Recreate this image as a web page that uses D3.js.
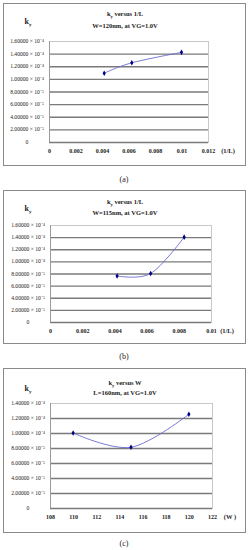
<!DOCTYPE html>
<html><head><meta charset="utf-8">
<script src="https://cdnjs.cloudflare.com/ajax/libs/d3/7.8.5/d3.min.js"></script>
<style>body{margin:0;background:#fff}svg{display:block}</style>
</head><body>
<script>
// ---- data ----
const xA = [1/240, 1/160, 1/100];
const yA = [1.09e-4, 1.255e-4, 1.42e-4];
const xB = [1/240, 1/160, 1/120];
const yB = [0.76e-4, 0.80e-4, 1.40e-4];
const xC = [110, 115, 120];
const yC = [1.00e-4, 0.81e-4, 1.25e-4];
const xTicksA = [0, 0.002, 0.004, 0.006, 0.008, 0.01, 0.012];
const xTicksB = [0, 0.002, 0.004, 0.006, 0.008, 0.01];
const xTicksC = [108, 110, 112, 114, 116, 118, 120, 122];
const yTicks16 = [0, 2e-5, 4e-5, 6e-5, 8e-5, 1e-4, 1.2e-4, 1.4e-4, 1.6e-4];
const yTicks14 = [0, 2e-5, 4e-5, 6e-5, 8e-5, 1e-4, 1.2e-4, 1.4e-4];
const titlesA = ["versus 1/L", "W=120nm, at VG=1.0V"];
const titlesB = ["versus 1/L", "W=115nm, at VG=1.0V"];
const titlesC = ["versus W", "L=160nm, at VG=1.0V"];
const xUnits = ["(1/L)", "(1/L)", "(W )"];
const captions = ["(a)", "(b)", "(c)"];

const panels = [
  {xs:xA, ys:yA, xt:xTicksA, yt:yTicks16, xd:[0,0.012], yd:[0,1.6e-4], titles:titlesA, unit:xUnits[0], cap:captions[0],
   frame:[3,3,245,165], plot:[49,41,208,142], t1:16, t2:28, ky:[28,24], capY:182, unitX:228, yLabX:27},
  {xs:xB, ys:yB, xt:xTicksB, yt:yTicks16, xd:[0,0.01], yd:[0,1.6e-4], titles:titlesB, unit:xUnits[1], cap:captions[1],
   frame:[3,190,245,343], plot:[50,225,211,322], t1:204, t2:215, ky:[28,211], capY:359, unitX:227, yLabX:28},
  {xs:xC, ys:yC, xt:xTicksC, yt:yTicks14, xd:[108,122], yd:[0,1.4e-4], titles:titlesC, unit:xUnits[2], cap:captions[2],
   frame:[3,368,245,532], plot:[50,403,212,508], t1:385, t2:395, ky:[28,391], capY:546, unitX:230, yLabX:28}
];

const sup = {"-":"⁻","0":"⁰","1":"¹","2":"²","3":"³","4":"⁴","5":"⁵","6":"⁶","7":"⁷","8":"⁸","9":"⁹"};
function fmtY(v){
  if (v === 0) return "0";
  const e = Math.floor(Math.log10(v) + 1e-9);
  const m = v / Math.pow(10, e);
  const es = String(e).split("").map(c => sup[c]).join("");
  return m.toFixed(5) + " × 10" + es;
}
function fmtX(v){ return String(+v.toFixed(4)); }

const svg = d3.select("body").append("svg").attr("width",250).attr("height",550)
  .style("font-family","'Liberation Serif','Times New Roman',serif");

panels.forEach(p => {
  const g = svg.append("g");
  const [fx0,fy0,fx1,fy1] = p.frame;
  const [px0,py0,px1,py1] = p.plot;
  g.append("rect").attr("x",fx0+0.5).attr("y",fy0+0.5).attr("width",fx1-fx0).attr("height",fy1-fy0)
    .attr("fill","#fff").attr("stroke","#8a8a8a").attr("stroke-width",1);

  const x = d3.scaleLinear().domain(p.xd).range([px0,px1]);
  const y = d3.scaleLinear().domain(p.yd).range([py1,py0]);

  // plot area border
  g.append("rect").attr("x",px0+0.5).attr("y",py0+0.5).attr("width",px1-px0).attr("height",py1-py0)
    .attr("fill","none").attr("stroke","#c8c8c8").attr("stroke-width",1);

  // gridlines
  const yAxis = d3.axisLeft(y).tickValues(p.yt).tickSize(-(px1-px0)).tickFormat("");
  const ga = g.append("g").attr("transform",`translate(${px0},0)`).call(yAxis);
  ga.select(".domain").remove();
  ga.selectAll(".tick line").attr("stroke","#7a7a7a").attr("stroke-width",1.3)
    .filter(d => d === p.yd[1]).attr("stroke","#c8c8c8").attr("stroke-width",1);

  // left axis line
  g.append("line").attr("x1",px0+0.5).attr("x2",px0+0.5).attr("y1",py0).attr("y2",py1)
    .attr("stroke","#9a9a9a").attr("stroke-width",1);

  // y tick labels
  g.selectAll(".ylab").data(p.yt).join("text")
    .attr("x",p.yLabX).attr("y",d => y(d)+2)
    .attr("text-anchor","middle").attr("font-size",5.6).attr("fill","#222")
    .text(fmtY);

  // x axis labels
  const xAxis = d3.axisBottom(x).tickValues(p.xt).tickSize(0).tickPadding(7).tickFormat(fmtX);
  const gx = g.append("g").attr("transform",`translate(0,${py1})`).call(xAxis);
  gx.select(".domain").remove();
  gx.selectAll("text").attr("font-size",6).attr("font-weight","bold").attr("fill","#222")
    .style("font-family","'Liberation Serif','Times New Roman',serif");
  g.append("text").attr("x",p.unitX).attr("y",py1+11).attr("text-anchor","middle")
    .attr("font-size",6.5).attr("font-weight","bold").attr("fill","#222").text(p.unit);

  // titles
  const cx = (fx0+fx1)/2 + 0;
  const t = g.append("text").attr("x",cx+1).attr("y",p.t1).attr("text-anchor","middle")
    .attr("font-size",6.5).attr("font-weight","bold").attr("fill","#222");
  t.append("tspan").text("k");
  t.append("tspan").attr("font-size",4.5).attr("dy",1.5).text("y");
  t.append("tspan").attr("dy",-1.5).text(" " + p.titles[0]);
  g.append("text").attr("x",cx+1).attr("y",p.t2).attr("text-anchor","middle")
    .attr("font-size",6.5).attr("font-weight","bold").attr("fill","#222").text(p.titles[1]);

  // ky label
  const k = g.append("text").attr("x",p.ky[0]).attr("y",p.ky[1]).attr("text-anchor","middle")
    .attr("font-size",8).attr("font-weight","bold").attr("fill","#222");
  k.append("tspan").text("k");
  k.append("tspan").attr("font-size",5).attr("dy",2).text("y");

  // line
  const pts = p.xs.map((v,i) => [v, p.ys[i]]);
  const line = d3.line().x(d => x(d[0])).y(d => y(d[1])).curve(d3.curveCardinal.tension(0));
  g.append("path").datum(pts).attr("d",line).attr("fill","none")
    .attr("stroke","#6b6bd0").attr("stroke-width",0.9);
  g.selectAll(".pt").data(pts).join("path")
    .attr("d", d3.symbol().type(d3.symbolDiamond).size(9))
    .attr("transform", d => `translate(${x(d[0])},${y(d[1])})`)
    .attr("fill","#000080");

  // caption
  svg.append("text").attr("x",124).attr("y",p.capY).attr("text-anchor","middle")
    .attr("font-size",8).attr("fill","#222").text(p.cap);
});
</script>
</body></html>
